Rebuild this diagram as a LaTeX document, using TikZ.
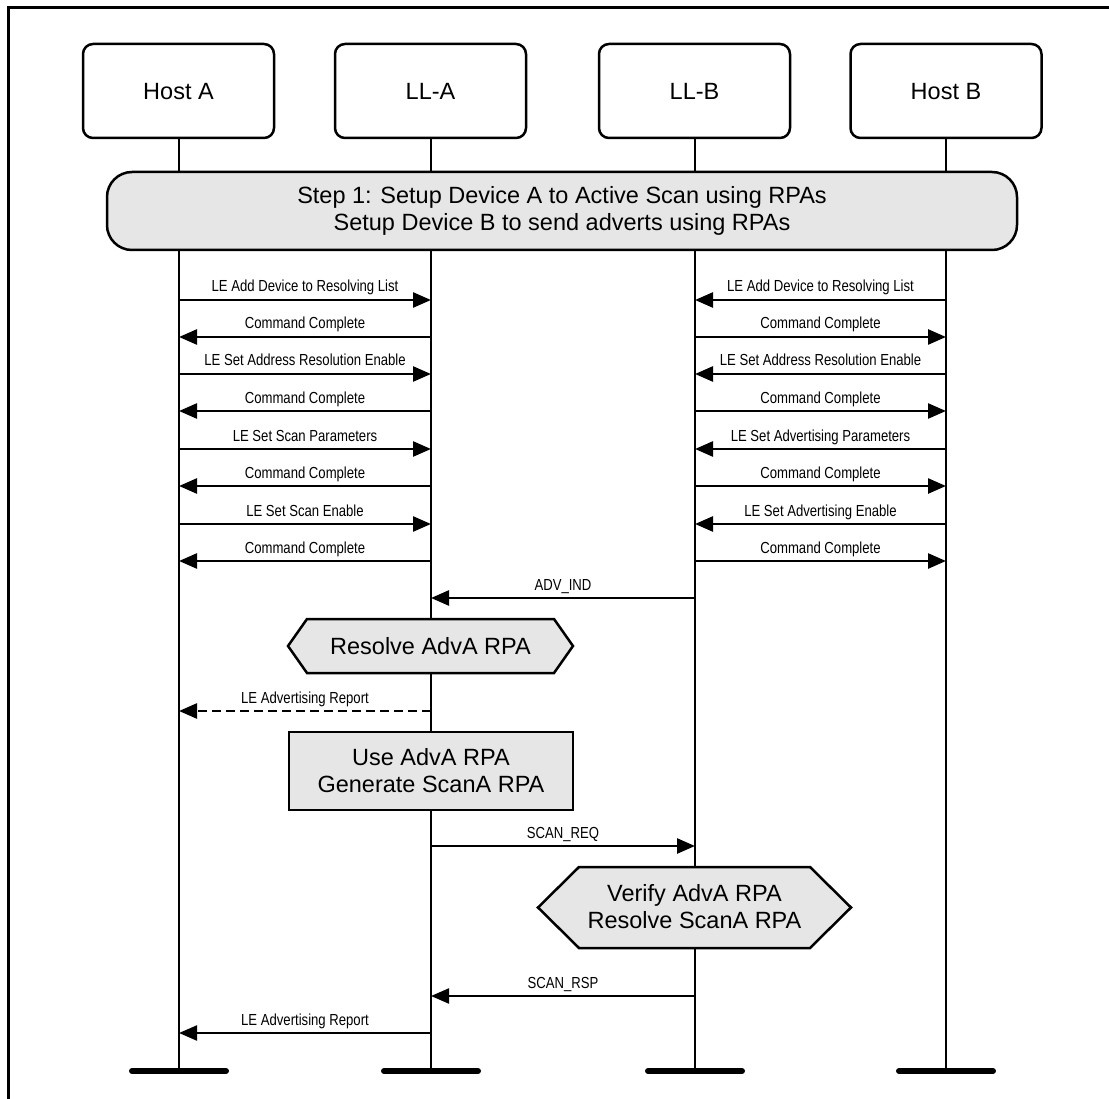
\documentclass[tikz,border=0pt]{standalone}
\usepackage{fontspec}
\setmainfont{Liberation Sans}
\newfontfamily\lblfont[FakeStretch=0.82]{Liberation Sans}
\usetikzlibrary{arrows.meta}
\definecolor{boxgray}{RGB}{230,230,230}
\tikzset{
  big/.style={font=\fontsize{23.5}{27}\selectfont, align=center},
  head/.style={draw, line width=2.5pt, rounded corners=10pt, minimum width=191pt, minimum height=94pt, big, fill=white, text height=17pt, text depth=-5pt},
  life/.style={line width=2.5pt},
  bar/.style={line width=6pt, line cap=round},
  msg/.style={line width=2.5pt, -{Triangle[length=18pt,width=15pt]}},
  thinmsg/.style={line width=2.2pt, -{Triangle[length=18pt,width=15pt]}},
  lbl/.style={font=\lblfont\fontsize{16}{19}\selectfont, anchor=base, inner sep=0pt},
  grayfill/.style={draw, line width=2.5pt, fill=boxgray},
  txt/.style={big, inner sep=0pt}
}
\begin{document}
\begin{tikzpicture}[x=1pt,y=-1pt]
\useasboundingbox (0,0) rectangle (1109,1099);
% frame
\draw[line width=3pt] (8,1099) -- (8,8) -- (1109,8);
% heads
\node[head] (hA) at (178.5,91) {Host A};
\node[head] (lA) at (430.5,91) {LL-A};
\node[head] (lB) at (694.5,91) {LL-B};
\node[head] (hB) at (946,91) {Host B};
% bottom ends
\coordinate (eA) at (179,1071);
\coordinate (eLA) at (431,1071);
\coordinate (eLB) at (695,1071);
\coordinate (eB) at (946,1071);
% lifelines
\draw[life] (hA.south -| eA) -- (eA);
\draw[life] (lA.south -| eLA) -- (eLA);
\draw[life] (lB.south -| eLB) -- (eLB);
\draw[life] (hB.south -| eB) -- (eB);
\draw[bar] ([xshift=-47pt]eA) -- ([xshift=47pt]eA);
\draw[bar] ([xshift=-47pt]eLA) -- ([xshift=47pt]eLA);
\draw[bar] ([xshift=-47pt]eLB) -- ([xshift=47pt]eLB);
\draw[bar] ([xshift=-47pt]eB) -- ([xshift=47pt]eB);
% step box
\node[grayfill, rounded corners=25pt, minimum width=910pt, minimum height=78pt, big] (step) at (562,211)
  {Step 1: Setup Device A to Active Scan using RPAs\\Setup Device B to send adverts using RPAs};
% left side messages
\foreach \y/\t/\d in {300/LE Add Device to Resolving List/r, 337/Command Complete/l,
  374/LE Set Address Resolution Enable/r, 411/Command Complete/l,
  449/LE Set Scan Parameters/r, 486/Command Complete/l,
  524/LE Set Scan Enable/r, 561/Command Complete/l}{
  \if\d r
    \draw[msg] (eA |- 0,\y) -- (eLA |- 0,\y);
  \else
    \draw[msg] (eLA |- 0,\y) -- (eA |- 0,\y);
  \fi
  \node[lbl] at (305,\y-8) {\t};
}
% right side messages
\foreach \y/\t/\d in {300/LE Add Device to Resolving List/l, 337/Command Complete/r,
  374/LE Set Address Resolution Enable/l, 411/Command Complete/r,
  449/LE Set Advertising Parameters/l, 486/Command Complete/r,
  524/LE Set Advertising Enable/l, 561/Command Complete/r}{
  \if\d r
    \draw[msg] (eLB |- 0,\y) -- (eB |- 0,\y);
  \else
    \draw[msg] (eB |- 0,\y) -- (eLB |- 0,\y);
  \fi
  \node[lbl] at (820.5,\y-8) {\t};
}
% ADV_IND
\draw[msg] (eLB |- 0,598) -- (eLA |- 0,598);
\node[lbl] at (563,590) {ADV\_IND};
% Resolve hexagon
\draw[grayfill] (288,646) -- (307,619) -- (554,619) -- (573,646) -- (554,673) -- (307,673) -- cycle;
\node[txt] (res) at (430.5,646) {Resolve AdvA RPA};
% dashed report
\draw[msg, dash pattern=on 9pt off 5pt] (eLA |- 0,711) -- (eA |- 0,711);
\node[lbl] at (305,703) {LE Advertising Report};
% Use AdvA box
\node[grayfill, minimum width=284pt, minimum height=78pt, big] (use) at (431,771) {Use AdvA RPA\\Generate ScanA RPA};
% SCAN_REQ
\draw[msg] (eLA |- 0,846) -- (eLB |- 0,846);
\node[lbl] at (563,838) {SCAN\_REQ};
% Verify hexagon
\draw[grayfill] (538,907.5) -- (579,867) -- (810,867) -- (851,907.5) -- (810,948) -- (579,948) -- cycle;
\node[txt] (ver) at (694.5,907) {Verify AdvA RPA\\Resolve ScanA RPA};
% SCAN_RSP
\draw[thinmsg] (eLB |- 0,996) -- (eLA |- 0,996);
\node[lbl] at (563,988) {SCAN\_RSP};
% final report
\draw[thinmsg] (eLA |- 0,1033) -- (eA |- 0,1033);
\node[lbl] at (305,1025) {LE Advertising Report};
\end{tikzpicture}
\end{document}
